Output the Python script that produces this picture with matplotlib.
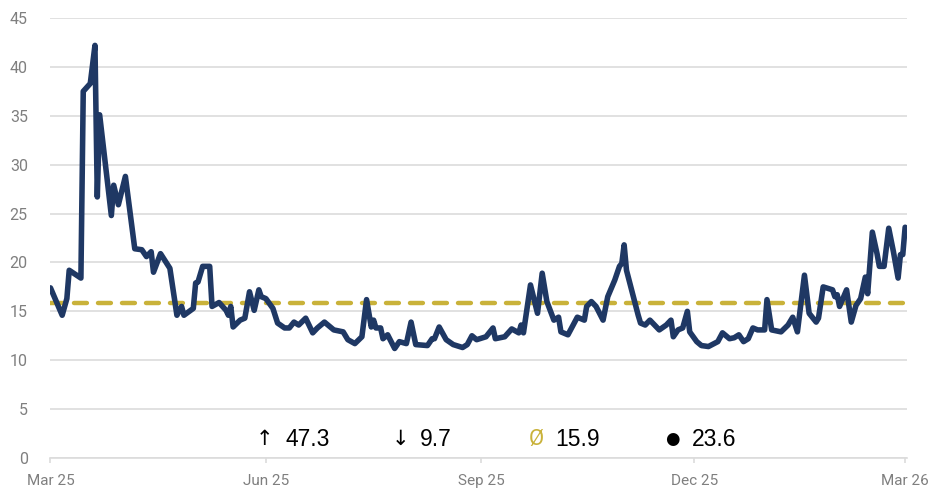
import pandas as pd
import matplotlib.pyplot as plt
import matplotlib.dates as mdates

# values (vertices of the line)
dates = [
    "2025-03-01", "2025-03-06", "2025-03-08", "2025-03-09", "2025-03-14", "2025-03-15",
    "2025-03-18", "2025-03-20", "2025-03-21", "2025-03-22", "2025-03-27", "2025-03-28",
    "2025-03-30", "2025-04-02", "2025-04-06", "2025-04-09", "2025-04-11", "2025-04-13",
    "2025-04-14", "2025-04-17", "2025-04-21", "2025-04-24", "2025-04-26", "2025-04-27",
    "2025-05-01", "2025-05-02", "2025-05-03", "2025-05-05", "2025-05-08", "2025-05-09",
    "2025-05-12", "2025-05-15", "2025-05-16", "2025-05-17", "2025-05-18", "2025-05-21",
    "2025-05-23", "2025-05-25", "2025-05-27", "2025-05-29", "2025-05-30", "2025-06-01",
    "2025-06-04", "2025-06-06", "2025-06-09", "2025-06-11", "2025-06-13", "2025-06-15",
    "2025-06-18", "2025-06-21", "2025-06-23", "2025-06-26", "2025-06-29", "2025-06-30",
    "2025-07-04", "2025-07-06", "2025-07-09", "2025-07-12", "2025-07-14", "2025-07-16",
    "2025-07-17", "2025-07-18", "2025-07-20", "2025-07-21", "2025-07-23", "2025-07-26",
    "2025-07-28", "2025-07-31", "2025-08-02", "2025-08-04", "2025-08-09", "2025-08-11",
    "2025-08-12", "2025-08-14", "2025-08-17", "2025-08-20", "2025-08-24", "2025-08-26",
    "2025-08-28", "2025-08-30", "2025-09-03", "2025-09-06", "2025-09-07", "2025-09-11",
    "2025-09-14", "2025-09-17", "2025-09-18", "2025-09-19", "2025-09-22", "2025-09-25",
    "2025-09-27", "2025-09-29", "2025-10-02", "2025-10-04", "2025-10-05", "2025-10-08",
    "2025-10-12", "2025-10-15", "2025-10-16", "2025-10-18", "2025-10-20", "2025-10-23",
    "2025-10-25", "2025-10-28", "2025-10-30", "2025-10-31", "2025-11-01", "2025-11-02",
    "2025-11-07", "2025-11-08", "2025-11-10", "2025-11-12", "2025-11-16", "2025-11-19",
    "2025-11-21", "2025-11-22", "2025-11-24", "2025-11-26", "2025-11-28", "2025-11-29",
    "2025-12-02", "2025-12-04", "2025-12-07", "2025-12-11", "2025-12-13", "2025-12-16",
    "2025-12-18", "2025-12-20", "2025-12-22", "2025-12-24", "2025-12-26", "2025-12-28",
    "2025-12-31", "2026-01-01", "2026-01-03", "2026-01-07", "2026-01-10", "2026-01-12",
    "2026-01-14", "2026-01-17", "2026-01-19", "2026-01-22", "2026-01-23", "2026-01-25",
    "2026-01-29", "2026-01-30", "2026-01-31", "2026-02-01", "2026-02-04", "2026-02-06",
    "2026-02-08", "2026-02-10", "2026-02-12", "2026-02-13", "2026-02-15", "2026-02-17",
    "2026-02-18", "2026-02-20", "2026-02-22", "2026-02-24", "2026-02-26", "2026-02-27",
    "2026-02-28", "2026-03-01",
]
values = [
    17.4, 14.6, 16.3, 19.2, 18.4, 37.5,
    38.3, 42.2, 26.7, 35.1, 24.8, 27.9,
    25.9, 28.8, 21.4, 21.3, 20.6, 21.1,
    19.0, 20.9, 19.4, 14.6, 15.5, 14.6,
    15.3, 17.9, 18.0, 19.6, 19.6, 15.5,
    15.9, 15.1, 14.6, 15.5, 13.4, 14.1,
    14.3, 17.0, 15.1, 17.2, 16.5, 16.3,
    15.3, 13.8, 13.3, 13.3, 13.9, 13.6,
    14.3, 12.8, 13.3, 13.9, 13.3, 13.1,
    12.9, 12.1, 11.7, 12.4, 16.2, 13.4,
    14.1, 13.3, 13.3, 12.2, 12.6, 11.2,
    11.9, 11.7, 13.9, 11.6, 11.5, 12.2,
    12.2, 13.4, 12.1, 11.6, 11.3, 11.6,
    12.5, 12.1, 12.4, 13.3, 12.2, 12.4,
    13.2, 12.8, 13.6, 12.8, 17.7, 14.8,
    18.9, 16.0, 14.1, 14.4, 12.9, 12.6,
    14.4, 14.1, 15.5, 16.0, 15.5, 14.1,
    16.5, 18.2, 19.6, 19.9, 21.8, 19.2,
    14.6, 13.8, 13.6, 14.1, 13.1, 13.6,
    14.1, 12.4, 13.1, 13.3, 15.0, 12.9,
    11.9, 11.5, 11.4, 11.9, 12.8, 12.2,
    12.3, 12.6, 11.9, 12.2, 13.3, 13.1,
    13.1, 16.2, 13.1, 12.9, 13.6, 14.4,
    12.9, 18.7, 14.8, 13.9, 14.3, 17.5,
    17.2, 16.5, 16.7, 15.5, 17.2, 13.9,
    15.6, 16.3, 18.5, 16.8, 23.1, 20.9,
    19.6, 19.6, 23.5, 21.1, 18.4, 20.8,
    20.8, 23.6,
]

stat_high = 47.3
stat_low = 9.7
stat_avg = 15.9
stat_last = 23.6

tick_dates = ["2025-03-01", "2025-06-01", "2025-09-01", "2025-12-01", "2026-03-01"]

navy = "#1f3864"
gold = "#c9b23a"
grid_grey = "#dcdcdc"
label_grey = "#7f7f7f"

plt.rcParams["font.family"] = ["Roboto", "DejaVu Sans"]
num_font = ["Liberation Sans", "DejaVu Sans"]
sym_font = ["DejaVu Sans"]

x = pd.to_datetime(dates)
ticks = pd.to_datetime(tick_dates)

fig = plt.figure(figsize=(9.49, 4.94), dpi=100)
ax = fig.add_axes([50 / 949, 36 / 494, 857 / 949, 440 / 494])

ax.plot(x, values, color=navy, lw=4.0, solid_joinstyle="round",
        solid_capstyle="round", zorder=3)
ax.axhline(stat_avg, color=gold, lw=3.2, dashes=(2.9, 2.5),
           dash_capstyle="round", zorder=2)

ax.set_ylim(0, 45)
ax.set_yticks(range(0, 46, 5))
ax.set_xlim(ticks[0] - pd.Timedelta(days=0.2), ticks[-1] + pd.Timedelta(days=0.8))
ax.set_xticks(ticks)
ax.xaxis.set_major_formatter(mdates.DateFormatter("%b %y"))

ax.grid(axis="y", color=grid_grey, lw=1.2, zorder=0)
for s in ["top", "right", "left"]:
    ax.spines[s].set_visible(False)
ax.spines["bottom"].set_color(grid_grey)
ax.spines["bottom"].set_linewidth(1.2)

ax.tick_params(axis="y", length=0, pad=16, labelsize=11.5, labelcolor=label_grey)
ax.tick_params(axis="x", length=3.5, width=1.2, color=grid_grey, pad=8,
               labelsize=11, labelcolor=label_grey)

# summary row along the bottom
ty = 1 - 439 / 494
fig.text(264 / 949, ty, "\u2191", ha="center", va="center", fontsize=15,
         color="black", family=sym_font)
fig.text(285 / 949, ty, f"{stat_high}", ha="left", va="center", fontsize=16.5,
         color="black", family=num_font)
fig.text(400 / 949, ty, "\u2193", ha="center", va="center", fontsize=15,
         color="black", family=sym_font)
fig.text(420 / 949, ty, f"{stat_low}", ha="left", va="center", fontsize=16.5,
         color="black", family=num_font)
fig.text(536 / 949, ty, "\u00d8", ha="center", va="center", fontsize=16, color=gold)
fig.text(555 / 949, ty, f"{stat_avg}", ha="left", va="center", fontsize=16.5,
         color="black", family=num_font)
fig.text(672 / 949, ty, "\u25cf", ha="center", va="center", fontsize=12,
         color="black", family=sym_font)
fig.text(692 / 949, ty, f"{stat_last}", ha="left", va="center", fontsize=16.5,
         color="black", family=num_font)

fig.savefig("out.png", dpi=100)
